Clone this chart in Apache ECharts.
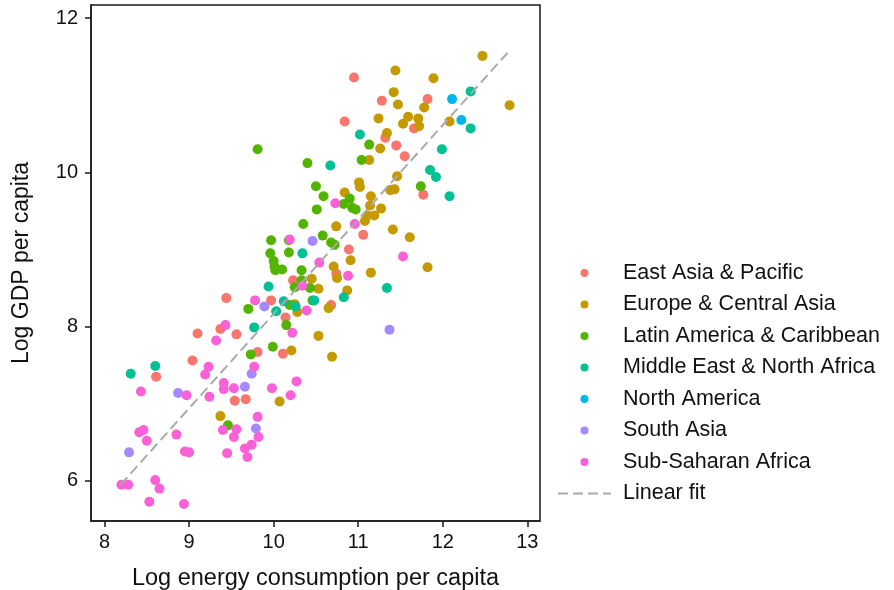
<!DOCTYPE html>
<html>
<head>
<meta charset="utf-8">
<script src="https://cdn.jsdelivr.net/npm/echarts@6/dist/echarts.min.js"></script>
<style>
html,body{margin:0;padding:0;background:#fff;}
#chart{width:894px;height:590px;}
</style>
</head>
<body>
<div id="chart"></div>
<script>
const regions = ["East Asia & Pacific","Europe & Central Asia","Latin America & Caribbean","Middle East & North Africa","North America","South Asia","Sub-Saharan Africa"];
const colors = ["#F8766D","#C49A00","#53B400","#00C094","#00B6EB","#A58AFF","#FB61D7"];
const xTicks = [8,9,10,11,12,13];
const yTicks = [6,8,10,12];

const eastAsia = [[10.95,11.23],[11.28,10.93],[11.82,10.95],[10.84,10.66],[11.66,10.57],[11.32,10.45],[11.45,10.35],[11.55,10.21],[11.77,9.71],[11.06,9.19],[10.89,9.00],[10.74,8.69],[10.23,8.60],[9.44,8.37],[9.97,8.34],[10.68,8.28],[10.14,8.12],[9.37,7.97],[9.10,7.91],[9.56,7.90],[9.81,7.67],[10.11,7.65],[9.04,7.56],[8.61,7.35],[9.54,7.04],[9.67,7.06]];
const europe = [[12.47,11.51],[11.44,11.32],[11.89,11.22],[11.42,11.04],[11.47,10.88],[11.78,10.84],[12.79,10.87],[11.24,10.70],[11.59,10.72],[11.71,10.70],[11.53,10.63],[11.72,10.60],[12.08,10.66],[11.34,10.51],[11.26,10.31],[11.13,10.16],[11.46,9.95],[11.01,9.87],[11.02,9.81],[11.38,9.77],[11.43,9.78],[10.84,9.74],[11.15,9.69],[11.14,9.57],[11.27,9.53],[11.11,9.44],[11.19,9.44],[11.08,9.37],[10.74,9.30],[11.41,9.26],[11.61,9.16],[10.91,8.86],[10.71,8.78],[11.82,8.77],[11.15,8.70],[10.75,8.63],[10.45,8.62],[10.53,8.49],[10.87,8.47],[10.25,8.29],[10.65,8.24],[10.28,8.19],[10.53,7.88],[10.21,7.69],[10.69,7.61],[10.07,7.03],[9.37,6.84]];
const latinAmerica = [[9.81,10.30],[11.13,10.36],[11.04,10.16],[10.40,10.12],[10.50,9.82],[11.74,9.82],[10.59,9.69],[10.90,9.66],[10.83,9.59],[10.93,9.54],[10.97,9.52],[10.51,9.52],[10.35,9.33],[10.58,9.18],[9.97,9.12],[10.18,9.12],[10.68,9.09],[10.72,9.06],[9.96,8.95],[10.18,8.96],[10.00,8.85],[10.01,8.78],[10.02,8.73],[10.10,8.74],[10.33,8.73],[10.33,8.60],[10.25,8.51],[10.43,8.50],[10.46,8.34],[10.19,8.28],[9.70,8.23],[10.15,8.02],[9.99,7.74],[9.73,7.64],[9.46,6.72]];
const mena = [[12.33,11.05],[12.33,10.57],[11.02,10.49],[11.99,10.30],[10.67,10.09],[11.85,10.03],[11.92,9.94],[12.08,9.69],[10.34,8.95],[9.94,8.52],[11.34,8.50],[10.83,8.38],[10.12,8.33],[10.48,8.34],[10.26,8.26],[10.03,8.20],[9.77,7.99],[8.60,7.49],[8.31,7.39]];
const northAmerica = [[12.11,10.95],[12.22,10.68]];
const southAsia = [[10.46,9.11],[9.89,8.26],[11.37,7.96],[9.74,7.39],[9.66,7.22],[8.87,7.14],[9.79,6.68],[8.29,6.37]];
const subSaharan = [[10.73,9.60],[10.96,9.33],[10.19,9.13],[10.54,8.83],[11.53,8.91],[10.88,8.66],[10.34,8.53],[9.78,8.34],[10.39,8.21],[9.43,8.02],[10.22,7.92],[9.32,7.82],[9.23,7.48],[9.77,7.48],[9.19,7.38],[9.41,7.27],[9.41,7.19],[9.53,7.20],[9.98,7.20],[10.27,7.29],[8.43,7.16],[8.97,7.11],[9.24,7.09],[10.20,7.11],[9.81,6.83],[9.40,6.66],[9.56,6.67],[8.41,6.63],[8.46,6.66],[8.50,6.52],[8.85,6.60],[9.53,6.57],[9.82,6.57],[9.74,6.47],[9.66,6.42],[9.69,6.31],[8.95,6.38],[9.00,6.37],[9.45,6.36],[8.20,5.95],[8.28,5.95],[8.60,6.01],[8.65,5.90],[8.53,5.73],[8.94,5.70]];
const fitX = [8.19, 12.79];
const fitY = [5.95, 11.58];

const groups = [eastAsia, europe, latinAmerica, mena, northAmerica, southAsia, subSaharan];
const font = "'Liberation Sans', Arial, sans-serif";

const series = groups.map((d, i) => ({
  name: regions[i],
  type: 'scatter',
  data: d,
  symbol: 'circle',
  symbolSize: 10,
  itemStyle: { color: colors[i], opacity: 1 },
  z: 2
}));
series.push({
  name: 'Linear fit',
  type: 'line',
  data: fitX.map((x, i) => [x, fitY[i]]),
  showSymbol: false,
  symbol: 'none',
  lineStyle: { color: '#AAAAAA', width: 2, type: [10, 5] },
  itemStyle: { color: '#AAAAAA' },
  z: 3,
  silent: true
});

const chart = echarts.init(document.getElementById('chart'), null, { renderer: 'canvas' });
chart.setOption({
  animation: false,
  backgroundColor: '#fff',
  grid: {
    left: 91, right: 354, top: 5, bottom: 69,
    outerBoundsMode: 'none', containLabel: false,
    show: true, borderColor: '#1a1a1a', borderWidth: 1.5, backgroundColor: '#fff'
  },
  xAxis: {
    type: 'value', min: 7.84, max: 13.15,
    name: 'Log energy consumption per capita',
    nameLocation: 'middle', nameGap: 46,
    nameTextStyle: { fontFamily: font, fontSize: 23.5, color: '#111' },
    axisLine: { show: true, lineStyle: { color: '#1a1a1a', width: 1.5 } },
    axisTick: { show: true, inside: false, length: 6, customValues: xTicks, lineStyle: { color: '#1a1a1a', width: 1.5 } },
    axisLabel: { customValues: xTicks, fontFamily: font, fontSize: 20, color: '#111', margin: 11 },
    splitLine: { show: false }
  },
  yAxis: {
    type: 'value', min: 5.48, max: 12.17,
    name: 'Log GDP per capita',
    nameLocation: 'middle', nameGap: 58,
    nameTextStyle: { fontFamily: font, fontSize: 23, color: '#111' },
    axisLine: { show: true, lineStyle: { color: '#1a1a1a', width: 1.5 } },
    axisTick: { show: true, inside: false, length: 6, customValues: yTicks, lineStyle: { color: '#1a1a1a', width: 1.5 } },
    axisLabel: { customValues: yTicks, fontFamily: font, fontSize: 20, color: '#111', margin: 13 },
    splitLine: { show: false }
  },
  legend: {
    orient: 'vertical',
    left: 552, top: 257,
    itemWidth: 53, itemHeight: 8, itemGap: 9.5,
    textStyle: { fontFamily: font, fontSize: 21.5, color: '#111', lineHeight: 20, padding: [0, 0, 0, 7] },
    data: regions.map(r => ({ name: r, icon: 'circle' })).concat([{ name: 'Linear fit', itemStyle: { opacity: 0 } }])
  },
  series: series
});
</script>
</body>
</html>
